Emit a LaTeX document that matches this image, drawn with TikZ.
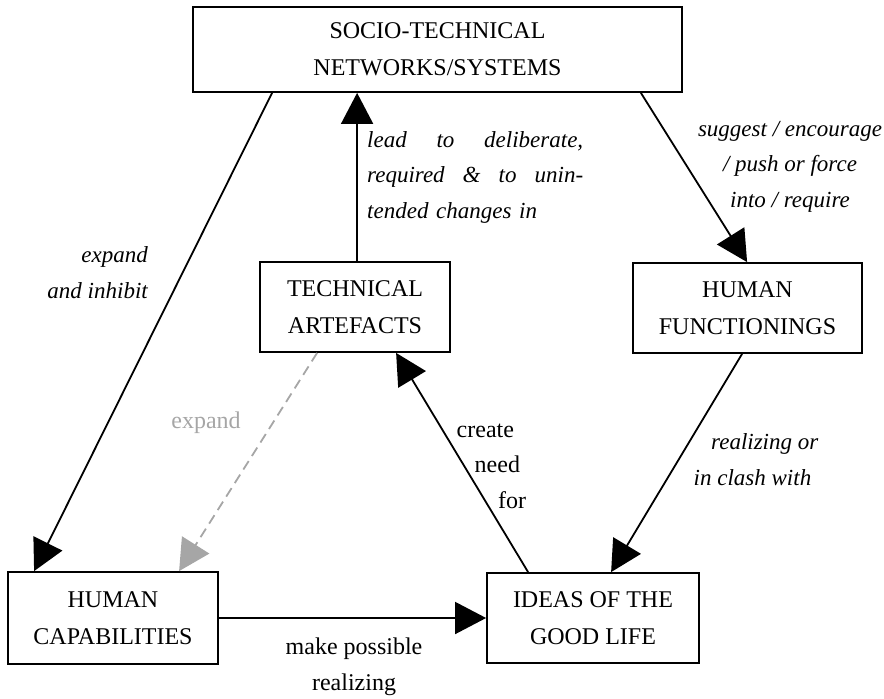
\documentclass[tikz,border=0pt]{standalone}
\usepackage{fontspec}
\setmainfont{Liberation Serif}
\usetikzlibrary{arrows.meta,calc}
\definecolor{softgray}{RGB}{166,166,166}
\begin{document}
\begin{tikzpicture}[x=1pt,y=-1pt,
  box/.style={draw,line width=1.8pt,rectangle,inner sep=0pt,align=center,
    font=\fontsize{24}{37}\selectfont},
  link/.style={line width=1.8pt,-{Triangle[length=31pt,width=32pt]}},
  softlink/.style={line width=1.8pt,softgray,dash pattern=on 10pt off 6pt,
    -{Triangle[length=31pt,width=32pt,color=softgray]}},
  lbl/.style={inner sep=0pt,font=\fontsize{23}{35.5}\selectfont\itshape},
  plainlbl/.style={inner sep=0pt,font=\fontsize{24}{35.5}\selectfont}]
\useasboundingbox (0,0) rectangle (884,699);

% boxes
\node[box,minimum width=489pt,minimum height=85pt] (socio) at (437.5,49.5)
  {SOCIO-TECHNICAL\\NETWORKS/SYSTEMS};
\node[box,minimum width=190pt,minimum height=90pt] (art) at (355,307)
  {TECHNICAL\\ARTEFACTS};
\node[box,minimum width=229pt,minimum height=90pt] (func) at (747.5,308)
  {HUMAN\\FUNCTIONINGS};
\node[box,minimum width=210pt,minimum height=92pt] (cap) at (113,618)
  {HUMAN\\CAPABILITIES};
\node[box,minimum width=212pt,minimum height=90pt] (ideas) at (593,618)
  {IDEAS OF THE\\GOOD LIFE};

% connectors
\draw[link] ($(socio.south west)+(80,0)$) -- ($(cap.north west)+(27,0)$);
\coordinate (artTop) at ($(art.north west)+(98,0)$);
\draw[link] (artTop) -- (artTop |- socio.south);
\draw[link] ($(socio.south east)+(-42,0)$) -- ($(func.north west)+(115,0)$);
\draw[link] ($(func.south west)+(110,0)$) -- ($(ideas.north west)+(125,0)$);
\draw[link] ($(ideas.north west)+(42,0)$) -- ($(art.south west)+(137,0)$);
\draw[softlink] ($(art.south west)+(58,0)$) -- ($(cap.north west)+(172,0)$);
\draw[link] (cap.east) -- (ideas.west);

% labels (base anchor of a multi-line node sits on its last line)
\node[lbl,anchor=base east,align=right] (lExpandInhibit) at (148,298)
  {expand\\and inhibit};
\node[lbl,anchor=base west,text width=216pt,align=left] (lLead) at (367,147)
  {lead\hfill to\hfill deliberate,\\required\hfill\&\hfill to\hfill unin-\\tended changes in};
\node[lbl,anchor=base,align=center] (lSuggest) at (790,207)
  {suggest / encourage\\/ push or force\\into / require};
\node[plainlbl,anchor=base,text=softgray] (lExpand) at (206,428) {expand};
\node[plainlbl,anchor=base west,align=left] (lCreate) at (456.5,508)
  {create\\\hspace*{18pt}need\\\hspace*{41.5pt}for};
\node[lbl,anchor=base west,align=left] (lRealize) at (693.5,485)
  {\hspace*{17.5pt}realizing or\\in clash with};
\node[plainlbl,anchor=base,align=center] (lMake) at (354,690)
  {make possible\\realizing};
\end{tikzpicture}
\end{document}
